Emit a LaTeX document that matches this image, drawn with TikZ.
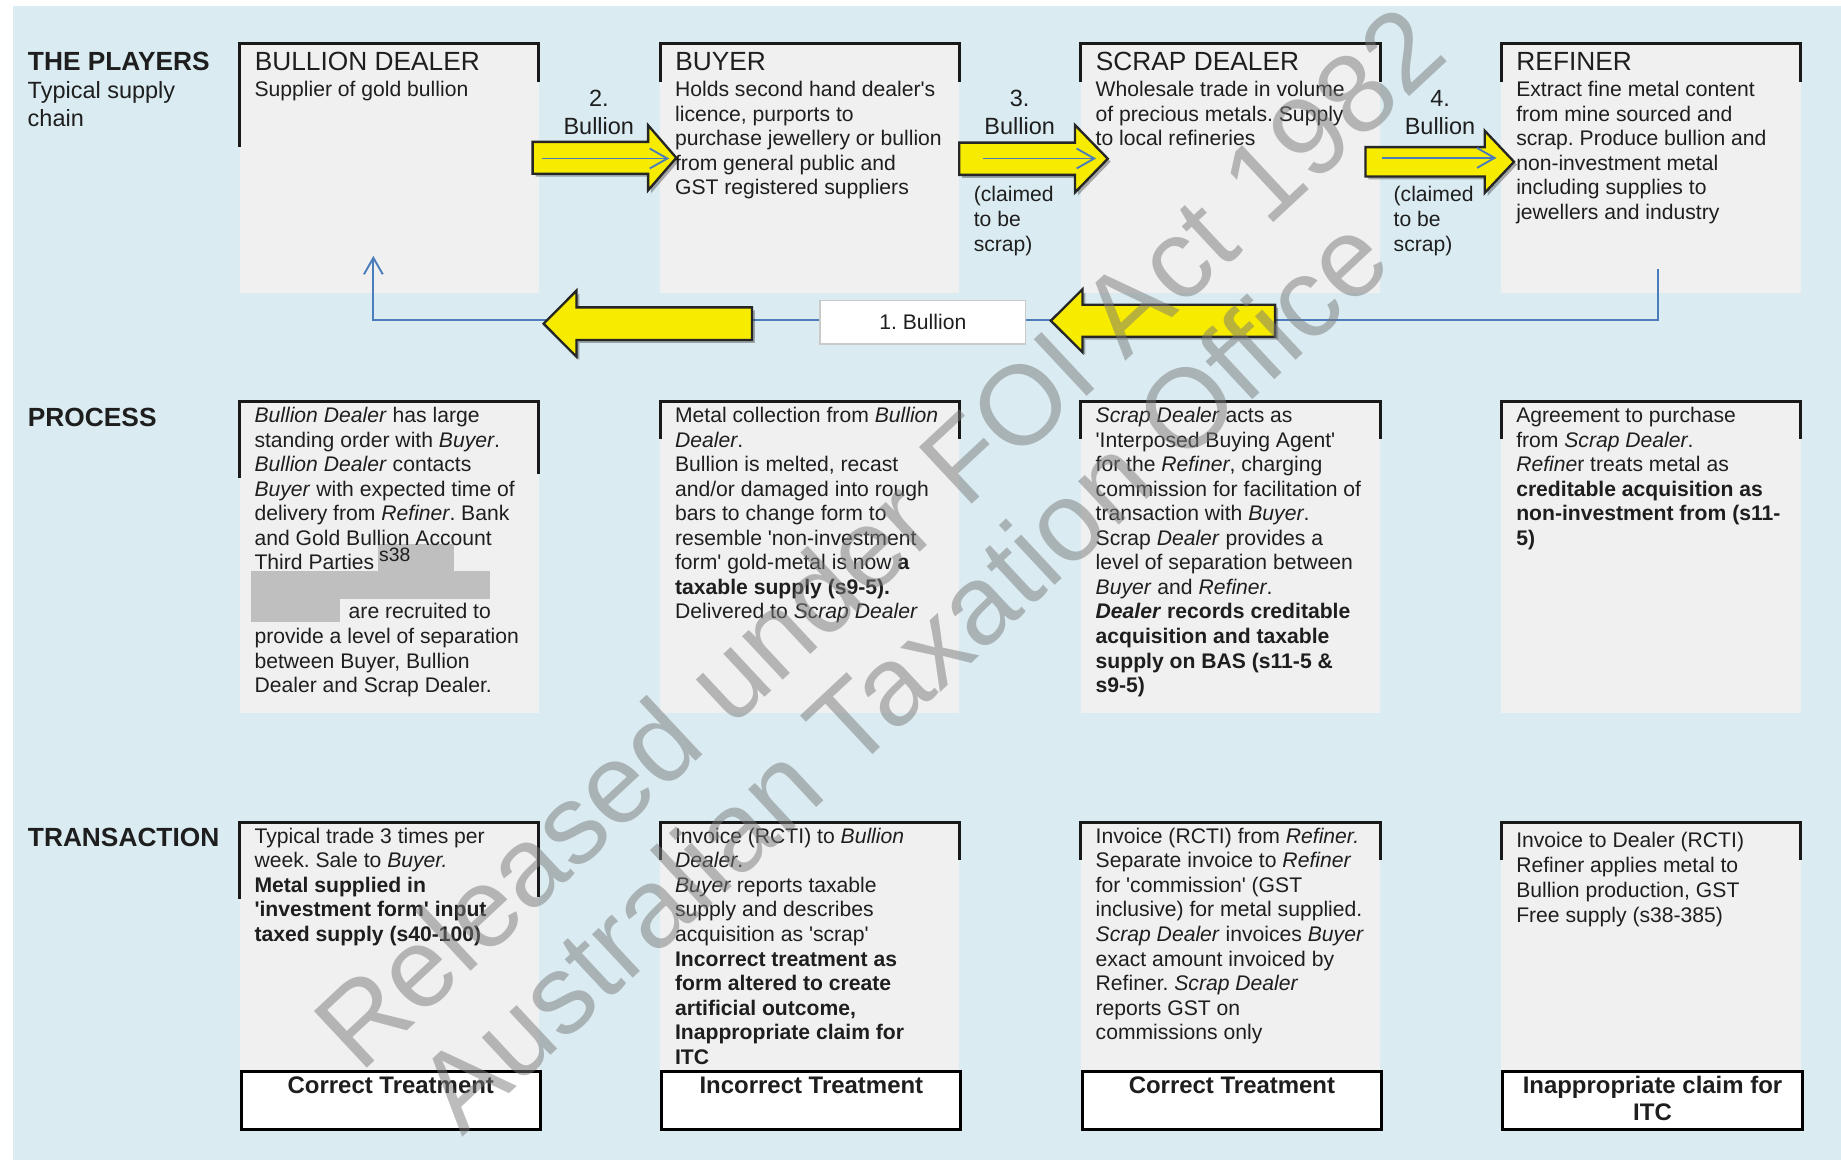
\documentclass[tikz,border=0pt]{standalone}
\usepackage{fontspec}
\setmainfont{Liberation Sans}
\usetikzlibrary{arrows.meta,shadows}
\frenchspacing

\definecolor{bgblue}{HTML}{DAECF2}
\definecolor{boxgrey}{HTML}{F0F0F0}
\definecolor{ink}{HTML}{1E1E1E}
\definecolor{flowblue}{HTML}{4A7DBA}
\definecolor{gold}{HTML}{F7EB00}
\definecolor{redact}{HTML}{BFBFBF}
\definecolor{wmgrey}{HTML}{7A7A7A}
\definecolor{lblframe}{HTML}{CACACA}

% font sizes
\newcommand\fbody{\fontsize{18}{20.9}\selectfont}
\newcommand\ftitle{\fontsize{22.4}{26}\selectfont}
\newcommand\fsub{\fontsize{20}{24}\selectfont}
\newcommand\fclaim{\fontsize{18}{21}\selectfont}
\newcommand\ftreat{\bfseries\fontsize{20.4}{23.5}\selectfont}
\newcommand\fwm{\fontsize{96}{106}\selectfont}

\newcommand\q{\textquotesingle}
% a block of explicitly broken lines whose baseline is the first line
\newcommand\blk[1]{\begin{minipage}[t]{300pt}\raggedright #1\end{minipage}}
\newcommand\cblk[1]{\begin{minipage}[t]{250pt}\centering #1\end{minipage}}

% block arrow: x of tail, x of head base, x of tip, centre y, half shaft, half head
\newcommand\goldarrow[6]{%
  \path[goldshape] (#1,{#4-#5}) -- (#2,{#4-#5}) -- (#2,{#4-#6}) -- (#3,#4)
    -- (#2,{#4+#6}) -- (#2,{#4+#5}) -- (#1,{#4+#5}) -- cycle;}

\tikzset{
  gbox/.style={fill=boxgrey, draw=none, inner sep=0, outer sep=0,
    minimum width=254.8pt, anchor=north west},
  tbox/.style={fill=white, draw=black, line width=2.5pt, inner sep=0,
    minimum width=254.8pt, minimum height=49.5pt, anchor=north west},
  bracket/.style={draw=black!90, line width=2.6pt, line join=miter},
  txt/.style={inner sep=0, outer sep=0, text=ink, font=\fbody, anchor=base west},
  ttl/.style={inner sep=0, text=ink, font=\ftitle, anchor=base west},
  rowlbl/.style={inner sep=0, text=ink, font=\ftitle\bfseries, anchor=base west},
  arrlbl/.style={inner sep=0, text=ink, font=\fsub, anchor=base},
  tlab/.style={inner sep=0, text=ink, font=\ftreat, anchor=base},
  goldshape/.style={fill=gold, draw=black!85, line width=2pt, line join=miter,
    drop shadow={shadow xshift=2.5pt, shadow yshift=-2.5pt, opacity=0.3, fill=black}},
  flow/.style={draw=flowblue, line width=1.6pt},
  wm/.style={inner sep=0, text=wmgrey, text opacity=0.5, font=\fwm, rotate=43}
}

\begin{document}
\begin{tikzpicture}[x=1pt, y=-1pt]
\useasboundingbox (0,0) rectangle (1568,988);
\clip (0,0) rectangle (1568,988);
\fill[white] (0,0) rectangle (1568,988);
\fill[bgblue] (10.7,5.1) rectangle (1568,988);

% ---------- row labels ----------
\node[rowlbl] (lplayers) at (23.6,60.2) {THE PLAYERS};
\node[txt, font=\fsub] (lchain) at (23.6,84) {\blk{Typical supply\\chain}};
\node[rowlbl] (lprocess) at (23.6,363.4) {PROCESS};
\node[rowlbl] (ltrans) at (23.6,721) {TRANSACTION};

% ---------- grey boxes ----------
\node[gbox, minimum height=212.3pt] (p1) at (204.2,37) {};
\node[gbox, minimum height=212.3pt] (p2) at (562.4,37) {};
\node[gbox, minimum height=212.3pt] (p3) at (920.6,37) {};
\node[gbox, minimum height=212.3pt] (p4) at (1278.8,37) {};

\node[gbox, minimum height=265pt] (r1) at (204.2,342) {};
\node[gbox, minimum height=265pt] (r2) at (562.4,342) {};
\node[gbox, minimum height=265pt] (r3) at (920.6,342) {};
\node[gbox, minimum height=265pt] (r4) at (1278.8,342) {};

\node[gbox, minimum height=210.6pt] (t1) at (204.2,700.7) {};
\node[gbox, minimum height=210.6pt] (t2) at (562.4,700.7) {};
\node[gbox, minimum height=210.6pt] (t3) at (920.6,700.7) {};
\node[gbox, minimum height=210.6pt] (t4) at (1278.8,700.7) {};

% ---------- top brackets ----------
\draw[bracket] ([yshift=-88pt]p1.north west) -- (p1.north west) -- (p1.north east) -- ([yshift=-33pt]p1.north east);
\foreach \b in {p2,p3,p4}
  \draw[bracket] ([yshift=-33pt]\b.north west) -- (\b.north west) -- (\b.north east) -- ([yshift=-33pt]\b.north east);
\draw[bracket] ([yshift=-65pt]r1.north west) -- (r1.north west) -- (r1.north east) -- ([yshift=-62pt]r1.north east);
\draw[bracket] ([yshift=-65pt]t1.north west) -- (t1.north west) -- (t1.north east) -- ([yshift=-63pt]t1.north east);
\foreach \b in {r2,r3,r4,t2,t3,t4}
  \draw[bracket] ([yshift=-32pt]\b.north west) -- (\b.north west) -- (\b.north east) -- ([yshift=-32pt]\b.north east);

% ---------- treatment boxes ----------
\node[tbox] (k1) at (204.2,911.3) {};
\node[tbox] (k2) at (562.4,911.3) {};
\node[tbox] (k3) at (920.6,911.3) {};
\node[tbox] (k4) at (1278.8,911.3) {};
\node[tlab] (k1t) at (k1.north |- 0,931) {Correct Treatment};
\node[tlab] (k2t) at (k2.north |- 0,931) {Incorrect Treatment};
\node[tlab] (k3t) at (k3.north |- 0,931) {Correct Treatment};
\node[tlab] (k4t) at (k4.north |- 0,931) {\cblk{Inappropriate claim for\\ITC}};

% ---------- the players ----------
\node[ttl] (p1h) at (216.8,60.2) {BULLION DEALER};
\node[txt] (p1b) at (216.8,82.3) {\blk{Supplier of gold bullion}};
\node[ttl] (p2h) at (575,60.2) {BUYER};
\node[txt] (p2b) at (575,82.3) {\blk{Holds second hand dealer\q s\\
licence, purports to\\
purchase jewellery or bullion\\
from general public and\\
GST registered suppliers}};
\node[ttl] (p3h) at (933.2,60.2) {SCRAP DEALER};
\node[txt] (p3b) at (933.2,82.3) {\blk{Wholesale trade in volume\\
of precious metals. Supply\\
to local refineries}};
\node[ttl] (p4h) at (1291.4,60.2) {REFINER};
\node[txt] (p4b) at (1291.4,82.3) {\blk{Extract fine metal content\\
from mine sourced and\\
scrap. Produce bullion and\\
non-investment metal\\
including supplies to\\
jewellers and industry}};

% ---------- return flow of bullion ----------
\coordinate (ls) at (1412,229);
\coordinate (lr) at (1412,272.6);
\coordinate (ll) at (318,272.6);
\coordinate (le) at (318,218);
\draw[flow, -{Straight Barb[length=14pt,width=16pt]}] (ls) -- (lr) -- (ll) -- (le);

% ---------- block arrows ----------
\goldarrow{453.6}{552}{576}{134.4}{13.6}{27.7}
\goldarrow{817}{915.6}{943.5}{135.2}{13.7}{28.7}
\goldarrow{1163}{1264.5}{1289.5}{137.8}{12.5}{26.5}
\goldarrow{640.5}{491}{463}{275.7}{13.9}{28.2}
\goldarrow{1086}{922}{895}{273.2}{13.6}{26.8}

\draw[flow, -{Straight Barb[length=15pt,width=17pt]}] (462,135) -- (570,135);
\draw[flow, -{Straight Barb[length=15pt,width=17pt]}] (837,135) -- (933.6,135);
\draw[flow, -{Straight Barb[length=15pt,width=17pt]}] (1177,134.5) -- (1274.6,134.5);

\node[draw=lblframe, line width=1.5pt, fill=white, minimum width=175pt, minimum height=37pt,
  inner sep=0, text=ink, font=\fbody] (b1) at (786,274.5) {1. Bullion};

% arrow labels
\node[arrlbl] (a2n) at (510,90.3) {2.};
\node[arrlbl] (a2l) at (510,114.2) {Bullion};
\node[arrlbl] (a3n) at (868.5,90.3) {3.};
\node[arrlbl] (a3l) at (868.5,114.2) {Bullion};
\node[arrlbl] (a4n) at (1226.5,90.3) {4.};
\node[arrlbl] (a4l) at (1226.5,114.2) {Bullion};
\node[txt, font=\fclaim] (a3c) at (829.4,171.8) {\blk{(claimed\\to be\\scrap)}};
\node[txt, font=\fclaim] (a4c) at (1187,171.8) {\blk{(claimed\\to be\\scrap)}};

% ---------- process ----------
\fill[redact] (322,463) rectangle (387,486);
\fill[redact] (214,486) rectangle (417.5,510);
\fill[redact] (214,510) rectangle (290,530);
\node[txt, font=\fontsize{16.5}{19}\selectfont] (s38) at (323,478.4) {s38};

\node[txt] (r1b) at (216.8,360) {\blk{\textit{Bullion Dealer} has large\\
standing order with \textit{Buyer}.\\
\textit{Bullion Dealer} contacts\\
\textit{Buyer} with expected time of\\
delivery from \textit{Refiner}. Bank\\
and Gold Bullion Account\\
Third Parties\\
\mbox{}\\
\hspace*{80.2pt}are recruited to\\
provide a level of separation\\
between Buyer, Bullion\\
Dealer and Scrap Dealer.}};

\node[txt] (r2b) at (575,360) {\blk{Metal collection from \textit{Bullion}\\
\textit{Dealer}.\\
Bullion is melted, recast\\
and/or damaged into rough\\
bars to change form to\\
resemble \q non-investment\\
form\q{} gold-metal is now \textbf{a}\\
\textbf{taxable supply (s9-5).}\\
Delivered to \textit{Scrap Dealer}}};

\node[txt] (r3b) at (933.2,360) {\blk{\textit{Scrap Dealer} acts as\\
\q Interposed Buying Agent\q\\
for the \textit{Refiner}, charging\\
commission for facilitation of\\
transaction with \textit{Buyer}.\\
Scrap \textit{Dealer} provides a\\
level of separation between\\
\textit{Buyer} and \textit{Refiner}.\\
\textbf{\textit{Dealer} records creditable}\\
\textbf{acquisition and taxable}\\
\textbf{supply on BAS (s11-5 \&}\\
\textbf{s9-5)}}};

\node[txt] (r4b) at (1291.4,360) {\blk{Agreement to purchase\\
from \textit{Scrap Dealer}.\\
\textit{Refine}r treats metal as\\
\textbf{creditable acquisition as}\\
\textbf{non-investment from (s11-}\\
\textbf{5)}}};

% ---------- transaction ----------
\node[txt] (t1b) at (216.8,718.3) {\blk{Typical trade 3 times per\\
week. Sale to \textit{Buyer.}\\
\textbf{Metal supplied in}\\
\textbf{\q investment form\q{} input}\\
\textbf{taxed supply (s40-100)}}};

\node[txt] (t2b) at (575,718.3) {\blk{Invoice (RCTI) to \textit{Bullion}\\
\textit{Dealer}.\\
\textit{Buyer} reports taxable\\
supply and describes\\
acquisition as \q scrap\q\\
\textbf{Incorrect treatment as}\\
\textbf{form altered to create}\\
\textbf{artificial outcome,}\\
\textbf{Inappropriate claim for}\\
\textbf{ITC}}};

\node[txt] (t3b) at (933.2,718.3) {\blk{Invoice (RCTI) from \textit{Refiner.}\\
Separate invoice to \textit{Refiner}\\
for \q commission\q{} (GST\\
inclusive) for metal supplied.\\
\textit{Scrap Dealer} invoices \textit{Buyer}\\
exact amount invoiced by\\
Refiner. \textit{Scrap Dealer}\\
reports GST on\\
commissions only}};

\node[txt, font=\fontsize{18}{21.3}\selectfont] (t4b) at (1291.4,722) {\blk{Invoice to Dealer (RCTI)\\
Refiner applies metal to\\
Bullion production, GST\\
Free supply (s38-385)}};

% ---------- release stamp ----------
\node[wm] (wm1) at (748,457) {Released under FOI Act 1982};
\node[wm] (wm2) at (768,573) {Australian Taxation Office};
\end{tikzpicture}
\end{document}
